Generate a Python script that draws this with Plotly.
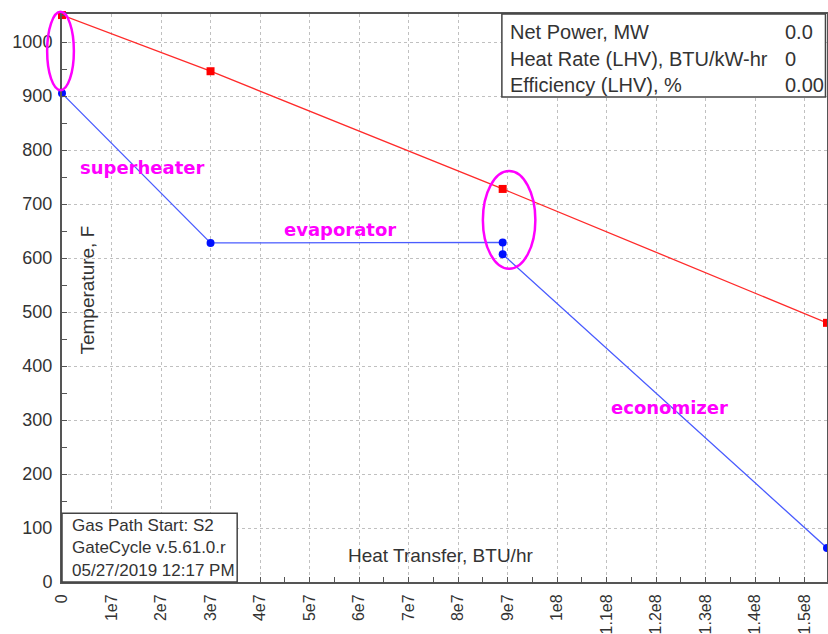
import plotly.graph_objects as go

# gas side (red) and water/steam side (blue) temperature profiles
gas_q = [0, 3.0e7, 8.9e7, 1.545e8]
gas_t = [1050, 946, 728, 480]

steam_q = [0, 3.0e7, 8.9e7, 8.9e7, 1.545e8]
steam_t = [905, 628, 629, 607, 63]

x_tickvals = [i * 1e7 for i in range(16)]
x_ticktext = ["0", "1e7", "2e7", "3e7", "4e7", "5e7", "6e7", "7e7", "8e7", "9e7",
              "1e8", "1.1e8", "1.2e8", "1.3e8", "1.4e8", "1.5e8"]
y_tickvals = list(range(0, 1001, 100))

x_range = [0, 1.545e8]
y_range = [0, 1052]

# section labels (data coords)
sections = ["superheater", "evaporator", "economizer"]
section_q = [1.62e7, 5.62e7, 12.26e7]
section_t = [768, 652, 324]

# highlighted regions: (q0, q1, t0, t1)
ellipses = [(-0.30e7, 0.24e7, 911, 1056), (8.5e7, 9.56e7, 580, 761)]

info_labels = ["Net Power, MW", "Heat Rate (LHV), BTU/kW-hr", "Efficiency (LHV), %"]
info_values = ["0.0", "0", "0.00"]
footer_lines = ["Gas Path Start: S2", "GateCycle v.5.61.0.r", "05/27/2019 12:17 PM"]


def px(q):
    return (q - x_range[0]) / (x_range[1] - x_range[0])


def py(t):
    return (t - y_range[0]) / (y_range[1] - y_range[0])


FONT = "Liberation Sans, Arial, sans-serif"
TXT = "#333333"
MAG = "#ff00ff"

fig = go.Figure()

fig.add_trace(go.Scatter(x=gas_q, y=gas_t, mode="lines+markers",
                         line=dict(color="#ff2a2a", width=1.3),
                         marker=dict(symbol="square", size=8, color="#ff0000"),
                         cliponaxis=False, showlegend=False))
fig.add_trace(go.Scatter(x=steam_q, y=steam_t, mode="lines+markers",
                         line=dict(color="#4a5cff", width=1.3),
                         marker=dict(symbol="circle", size=8, color="#0010ff"),
                         cliponaxis=False, showlegend=False))

for name, q, t in zip(sections, section_q, section_t):
    fig.add_annotation(x=q, y=t, text=name, showarrow=False,
                       font=dict(family="DejaVu Sans", size=18, color=MAG, weight="bold"))

for q0, q1, t0, t1 in ellipses:
    fig.add_shape(type="circle", xref="x domain", yref="y domain",
                  x0=px(q0), x1=px(q1), y0=py(t0), y1=py(t1),
                  line=dict(color=MAG, width=2.5), layer="above")

# info box top right
fig.add_shape(type="rect", xref="paper", yref="paper", x0=0.575, x1=0.998, y0=0.854, y1=1.0,
              fillcolor="white", line=dict(color="#444", width=1.5), layer="above")
for i, (lab, val) in enumerate(zip(info_labels, info_values)):
    yy = 0.968 - i * 0.0465
    fig.add_annotation(xref="paper", yref="paper", x=0.583, y=yy, text=lab,
                       xanchor="left", yanchor="middle", showarrow=False,
                       font=dict(family=FONT, size=20, color=TXT))
    fig.add_annotation(xref="paper", yref="paper", x=0.9425, y=yy, text=val,
                       xanchor="left", yanchor="middle", showarrow=False,
                       font=dict(family=FONT, size=20, color=TXT))

# footer box bottom left
fig.add_shape(type="rect", xref="paper", yref="paper", x0=0.0, x1=0.229, y0=0.0, y1=0.121,
              fillcolor="white", line=dict(color="#444", width=1.5), layer="above")
for i, line in enumerate(footer_lines):
    fig.add_annotation(xref="paper", yref="paper", x=0.0105, y=0.100 - i * 0.0395, text=line,
                       xanchor="left", yanchor="middle", showarrow=False,
                       font=dict(family=FONT, size=17, color=TXT))

# axis titles drawn inside the plot
fig.add_annotation(xref="paper", yref="paper", x=0.495, y=0.025, text="Heat Transfer, BTU/hr",
                   showarrow=False, font=dict(family=FONT, size=19, color=TXT))
fig.add_annotation(xref="paper", yref="paper", x=0.017, y=0.514, text="Temperature, F",
                   textangle=-90, showarrow=False, font=dict(family=FONT, size=19, color=TXT))

axis_common = dict(showline=True, linecolor="#555555", linewidth=2, mirror=True,
                   showgrid=True, gridcolor="#c0c0c0", griddash="dot", gridwidth=1,
                   zeroline=False, ticks="", ticklabelstandoff=4, automargin=False)

fig.update_xaxes(range=x_range, tickvals=x_tickvals, ticktext=x_ticktext, tickangle=-90,
                 tickfont=dict(family=FONT, size=16, color=TXT),
                 minor=dict(ticks="inside", ticklen=5, tickcolor="#555555", dtick=5e6,
                            tick0=0, showgrid=False),
                 **axis_common)
fig.update_yaxes(range=y_range, tickvals=y_tickvals,
                 tickfont=dict(family=FONT, size=18, color=TXT),
                 minor=dict(ticks="inside", ticklen=5, tickcolor="#555555", dtick=50,
                            tick0=0, showgrid=False),
                 **axis_common)

fig.update_layout(width=828, height=634, margin=dict(l=62, r=1, t=14, b=52),
                  paper_bgcolor="white", plot_bgcolor="white")

# drop the default body margin so the page does not overflow the window
fig.write_html("out.html", config={"displayModeBar": False},
               post_script="document.body.style.margin='0';document.body.style.overflow='hidden';")
